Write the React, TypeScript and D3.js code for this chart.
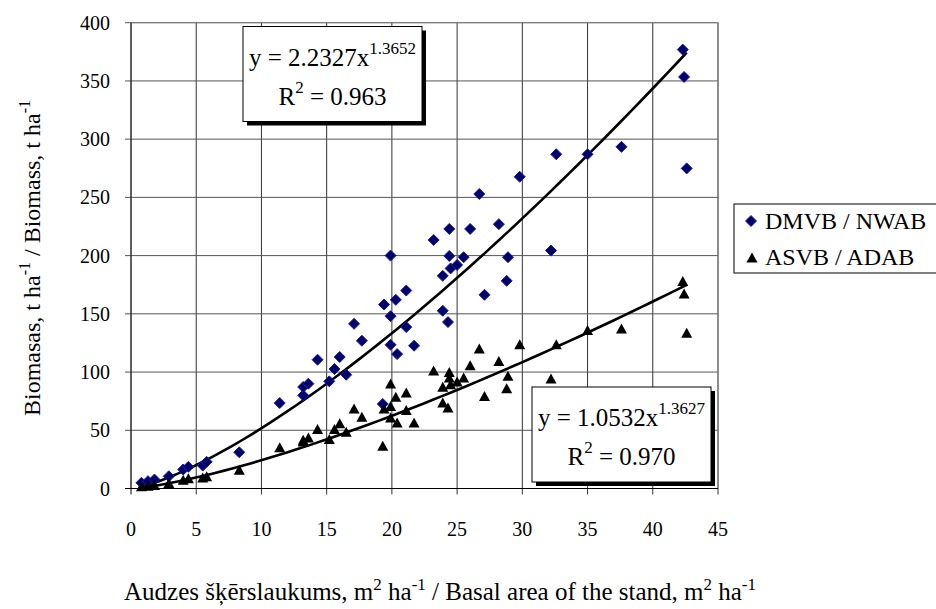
import React, { useRef, useEffect } from "react";
import * as d3 from "d3";

// basal area of the stand, m2/ha (x) and biomass, t/ha (y)
const basalArea = [
  0.8, 1.3, 1.8, 2.9, 4.0, 4.4, 5.5, 5.8, 8.3, 11.4, 13.2, 13.2, 13.6, 14.3,
  15.2, 15.6, 16.0, 16.5, 17.1, 17.7, 19.3, 19.4, 19.9, 19.9, 19.9, 20.3, 20.4,
  21.1, 21.1, 21.7, 23.2, 23.9, 23.9, 24.3, 24.4, 24.4, 24.5, 25.0, 25.5, 26.0,
  26.7, 27.1, 28.2, 28.8, 28.9, 29.8, 32.2, 32.6, 35.0, 37.6, 42.3, 42.4, 42.6,
];
const dmvbBiomass = [
  4.9, 6.3, 7.7, 10.5, 16.3, 18.6, 19.7, 22.9, 31.1, 73.4, 80.0, 87.2, 90.0,
  110.6, 92.0, 102.6, 112.9, 97.7, 141.4, 126.9, 72.6, 158.0, 200.0, 148.0,
  123.4, 162.0, 115.4, 170.0, 138.6, 122.6, 213.4, 182.6, 152.6, 142.9, 222.9,
  199.7, 189.0, 192.0, 198.6, 222.9, 252.9, 166.3, 227.0, 178.3, 198.6, 267.7,
  204.3, 287.0, 287.0, 293.4, 376.9, 353.4, 274.9,
];
const asvbBiomass = [
  1.5, 2.0, 2.6, 4.3, 7.1, 8.3, 9.0, 10.0, 15.7, 34.9, 41.4, 40.0, 43.4, 50.6,
  42.0, 50.6, 55.7, 48.3, 68.3, 61.1, 36.3, 68.3, 89.7, 70.5, 60.6, 78.3, 56.3,
  82.0, 66.9, 56.3, 101.0, 86.9, 73.4, 69.2, 99.7, 94.9, 89.0, 91.4, 94.9,
  105.4, 119.7, 79.1, 109.0, 85.7, 96.3, 123.4, 94.0, 123.4, 135.7, 136.9,
  177.7, 167.1, 133.4,
];

const xTicks = [0, 5, 10, 15, 20, 25, 30, 35, 40, 45];
const yTicks = [0, 50, 100, 150, 200, 250, 300, 350, 400];

// power trend lines y = a * x^b
const dmvbFit = { a: 2.2327, b: 1.3652, exp: "1.3652", r2: "0.963" };
const asvbFit = { a: 1.0532, b: 1.3627, exp: "1.3627", r2: "0.970" };

const FONT = "'Liberation Serif', 'Times New Roman', 'DejaVu Serif', serif";

const App = () => {
  const ref = useRef<SVGSVGElement>(null);

  useEffect(() => {
    const svg = d3.select(ref.current);
    svg.selectAll("*").remove();

    const left = 131, right = 718, top = 22.7, bottom = 488.5;
    const x = d3.scaleLinear().domain([0, 45]).range([left, right]);
    const y = d3.scaleLinear().domain([0, 400]).range([bottom, top]);

    svg.attr("width", 936).attr("height", 609);

    const label = (sel) => sel.append("text").style("font-family", FONT);

    // gridlines
    const grid = svg.append("g");
    grid
      .selectAll(".vg")
      .data(xTicks.slice(1))
      .enter()
      .append("line")
      .attr("x1", (d) => x(d))
      .attr("x2", (d) => x(d))
      .attr("y1", top)
      .attr("y2", bottom + 6)
      .attr("stroke", "#333")
      .attr("stroke-width", 1);
    grid
      .selectAll(".hg")
      .data(yTicks.slice(1))
      .enter()
      .append("line")
      .attr("x1", left - 6)
      .attr("x2", right)
      .attr("y1", (d) => y(d))
      .attr("y2", (d) => y(d))
      .attr("stroke", "#555")
      .attr("stroke-width", 1);
    // plot border top/right
    svg
      .append("rect")
      .attr("x", left)
      .attr("y", top)
      .attr("width", right - left)
      .attr("height", bottom - top)
      .attr("fill", "none")
      .attr("stroke", "#808080");

    // axes
    svg
      .append("line")
      .attr("x1", left)
      .attr("x2", left)
      .attr("y1", top)
      .attr("y2", bottom)
      .attr("stroke", "#000");
    svg
      .append("line")
      .attr("x1", left - 6)
      .attr("x2", right)
      .attr("y1", bottom)
      .attr("y2", bottom)
      .attr("stroke", "#000");
    svg
      .append("line")
      .attr("x1", left)
      .attr("x2", left)
      .attr("y1", bottom)
      .attr("y2", bottom + 6)
      .attr("stroke", "#000");

    // tick labels
    xTicks.forEach((d) => {
      label(svg)
        .attr("x", x(d))
        .attr("y", bottom + 47)
        .attr("text-anchor", "middle")
        .attr("font-size", 20)
        .text(d);
    });
    yTicks.forEach((d) => {
      label(svg)
        .attr("x", left - 21)
        .attr("y", y(d) + 7)
        .attr("text-anchor", "end")
        .attr("font-size", 20)
        .text(d);
    });

    // trend lines
    const xs = d3.extent(basalArea) as [number, number];
    const steps = d3.range(0, 61).map((i) => xs[0] + ((xs[1] - xs[0]) * i) / 60);
    const line = d3
      .line<number[]>()
      .x((d) => x(d[0]))
      .y((d) => y(d[1]));
    [dmvbFit, asvbFit].forEach((f) => {
      svg
        .append("path")
        .datum(steps.map((v) => [v, f.a * Math.pow(v, f.b)]))
        .attr("d", line as any)
        .attr("fill", "none")
        .attr("stroke", "#000")
        .attr("stroke-width", 2.6);
    });

    // markers
    const diamond = "M0,-5.5L5.5,0L0,5.5L-5.5,0Z";
    const triangle = "M0,-5.5L5.5,4.5L-5.5,4.5Z";
    svg
      .append("g")
      .selectAll("path")
      .data(basalArea)
      .enter()
      .append("path")
      .attr("d", diamond)
      .attr("transform", (d, i) => `translate(${x(d)},${y(dmvbBiomass[i])})`)
      .attr("fill", "#000066")
      .attr("stroke", "#1a1ab0")
      .attr("stroke-width", 1);
    svg
      .append("g")
      .selectAll("path")
      .data(basalArea)
      .enter()
      .append("path")
      .attr("d", triangle)
      .attr("transform", (d, i) => `translate(${x(d)},${y(asvbBiomass[i])})`)
      .attr("fill", "#000");

    // equation boxes
    const eqBox = (bx, by, f) => {
      const w = 179, h = 95;
      const g = svg.append("g");
      g.append("rect")
        .attr("x", bx + 4)
        .attr("y", by + 4)
        .attr("width", w)
        .attr("height", h)
        .attr("fill", "#000");
      g.append("rect")
        .attr("x", bx)
        .attr("y", by)
        .attr("width", w)
        .attr("height", h)
        .attr("fill", "#fff")
        .attr("stroke", "#000");
      const t1 = label(g)
        .attr("x", bx + w / 2)
        .attr("y", by + 39)
        .attr("text-anchor", "middle")
        .attr("font-size", 25);
      t1.append("tspan").text(`y = ${f.a.toFixed(4)}x`);
      t1.append("tspan").attr("dy", -12).attr("font-size", 17).text(f.exp);
      const t2 = label(g)
        .attr("x", bx + w / 2)
        .attr("y", by + 78)
        .attr("text-anchor", "middle")
        .attr("font-size", 25);
      t2.append("tspan").text("R");
      t2.append("tspan").attr("dy", -12).attr("font-size", 17).text("2");
      t2.append("tspan").attr("dy", 12).text(` = ${f.r2}`);
    };
    eqBox(243, 26.5, dmvbFit);
    eqBox(532, 387, asvbFit);

    // legend
    const lg = svg.append("g");
    lg.append("rect")
      .attr("x", 734)
      .attr("y", 204)
      .attr("width", 230)
      .attr("height", 69)
      .attr("fill", "#fff")
      .attr("stroke", "#000");
    lg.append("path")
      .attr("d", diamond)
      .attr("transform", "translate(751,221)")
      .attr("fill", "#000066")
      .attr("stroke", "#1a1ab0");
    label(lg).attr("x", 765).attr("y", 229).attr("font-size", 24).text("DMVB / NWAB");
    lg.append("path")
      .attr("d", triangle)
      .attr("transform", "translate(752,258)")
      .attr("fill", "#000");
    label(lg).attr("x", 765).attr("y", 265).attr("font-size", 24).text("ASVB / ADAB");

    // axis titles
    const yt = label(svg)
      .attr("transform", "translate(40,258) rotate(-90)")
      .attr("text-anchor", "middle")
      .attr("font-size", 24);
    yt.append("tspan").text("Biomasas, t ha");
    yt.append("tspan").attr("dy", -10).attr("font-size", 16).text("-1");
    yt.append("tspan").attr("dy", 10).text(" / Biomass, t ha");
    yt.append("tspan").attr("dy", -10).attr("font-size", 16).text("-1");

    const xt = label(svg)
      .attr("x", 440)
      .attr("y", 600)
      .attr("text-anchor", "middle")
      .attr("font-size", 25);
    const parts: [string, boolean][] = [
      ["Audzes šķērslaukums, m", false],
      ["2", true],
      [" ha", false],
      ["-1", true],
      [" / Basal area of the stand, m", false],
      ["2", true],
      [" ha", false],
      ["-1", true],
    ];
    let up = false;
    parts.forEach(([s, sup]) => {
      const ts = xt.append("tspan").text(s);
      if (sup && !up) ts.attr("dy", -10);
      if (!sup && up) ts.attr("dy", 10);
      if (sup) ts.attr("font-size", 17);
      up = sup;
    });
  }, []);

  return (
    <svg
      ref={ref}
      style={{ display: "block", position: "absolute", left: 0, top: 0, background: "#fff" }}
    />
  );
};

export default App;
